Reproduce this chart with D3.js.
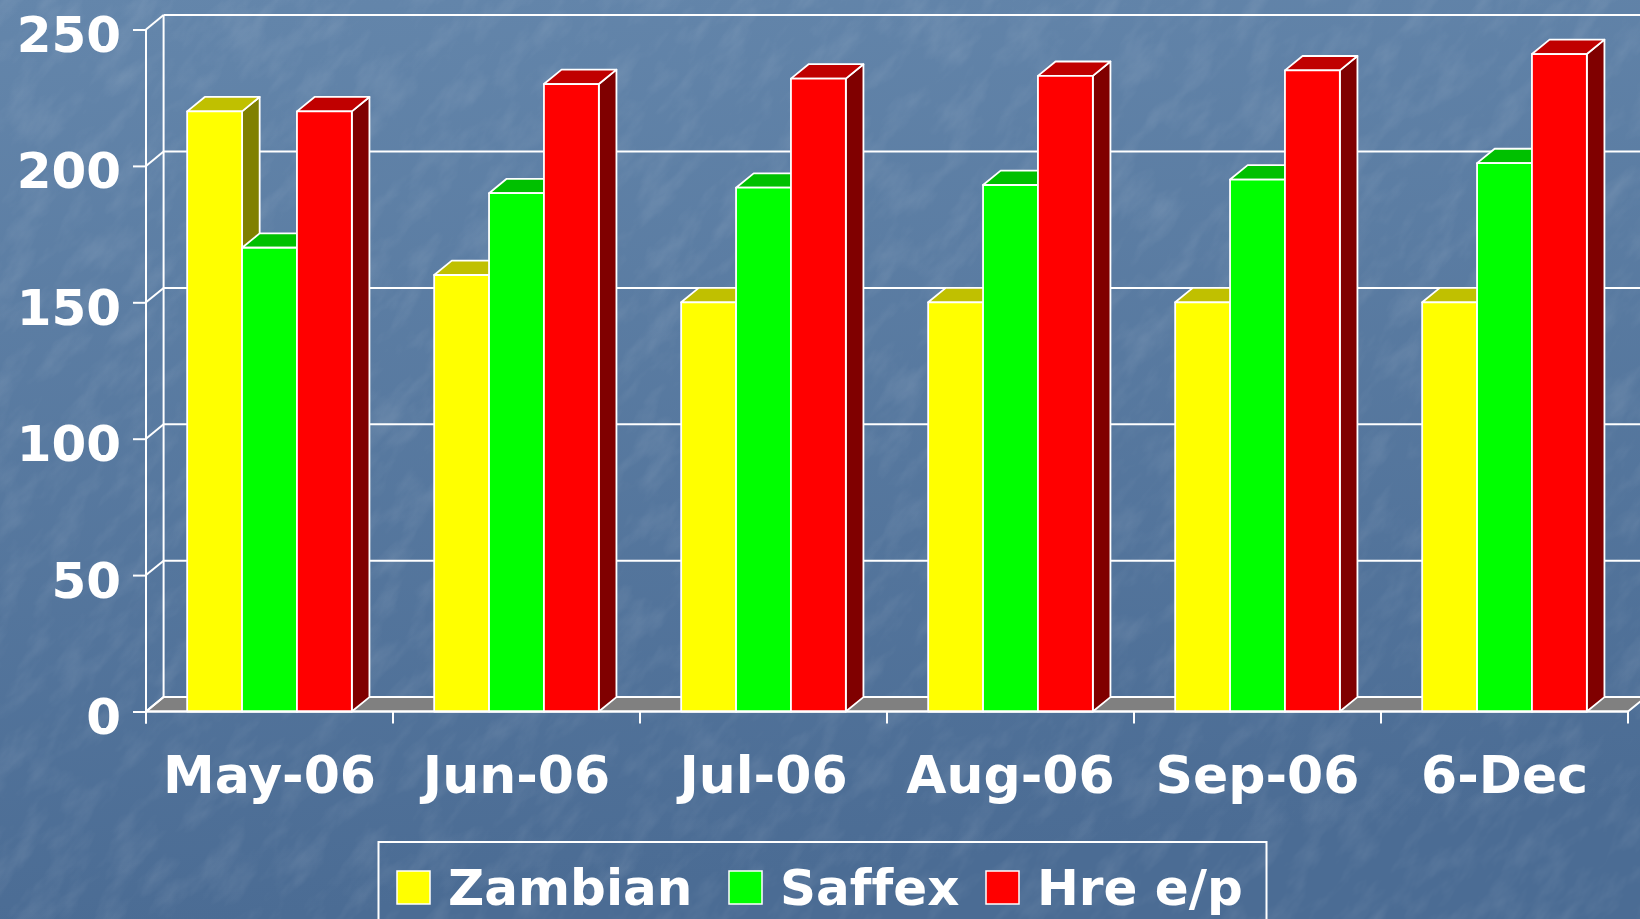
<!DOCTYPE html>
<html>
<head>
<meta charset="utf-8">
<script src="https://cdn.jsdelivr.net/npm/d3@7"></script>
<style>
  html, body { margin: 0; padding: 0; overflow: hidden; background: #56779d; }
  svg { display: block; }
  text { font-family: "DejaVu Sans", Verdana, sans-serif; font-weight: bold; fill: #fff;
         font-variant-ligatures: none; font-feature-settings: "liga" 0; }
</style>
</head>
<body>
<svg id="chart"></svg>
<script>
// chart data
const categories = ['May-06', 'Jun-06', 'Jul-06', 'Aug-06', 'Sep-06', '6-Dec'];
const seriesNames = ['Zambian', 'Saffex', 'Hre e/p'];
const zambian = [220, 160, 150, 150, 150, 150];
const saffex = [170, 190, 192, 193, 195, 201];
const hre = [220, 230, 232, 233, 235, 241];
const yTicks = [0, 50, 100, 150, 200, 250];

const seriesValues = [zambian, saffex, hre];
const colors = {
  front: ['#ffff00', '#00ff00', '#ff0000'],
  top:   ['#c0c000', '#00c000', '#c00000'],
  side:  ['#808000', '#008000', '#800000']
};

const W = 1640, H = 919;
const plot = {left: 146, right: 1628, top: 29.5, bottom: 711.5};
const dx = 17.6, dy = -14.4;   // 3d depth offset

const svg = d3.select('#chart').attr('width', W).attr('height', H);

// background with a light mottled texture
const defs = svg.append('defs');
const grad = defs.append('linearGradient').attr('id', 'bg')
    .attr('x1', 0).attr('y1', 0).attr('x2', 0.15).attr('y2', 1);
grad.append('stop').attr('offset', '0%').attr('stop-color', '#6486ab');
grad.append('stop').attr('offset', '100%').attr('stop-color', '#4b6c94');

const filt = defs.append('filter').attr('id', 'tex')
    .attr('x', 0).attr('y', 0).attr('width', '100%').attr('height', '100%');
filt.append('feTurbulence').attr('type', 'fractalNoise')
    .attr('baseFrequency', '0.02 0.045').attr('numOctaves', 4).attr('seed', 11);
filt.append('feColorMatrix').attr('type', 'matrix')
    .attr('values', '0 0 0 0 1  0 0 0 0 1  0 0 0 0 1  0.9 0 0 0 -0.4');

svg.append('rect').attr('width', W).attr('height', H).attr('fill', 'url(#bg)');
svg.append('g').attr('transform', 'rotate(-50 820 460)')
  .append('rect').attr('x', -500).attr('y', -500).attr('width', W + 1000).attr('height', H + 1000)
    .attr('filter', 'url(#tex)').attr('opacity', 0.22);

// scales
const x0 = d3.scaleBand().domain(categories).range([plot.left, plot.right]);
const gapHalf = x0.bandwidth() * 0.75 / 4.5;
const x1 = d3.scaleBand().domain(seriesNames).range([gapHalf, x0.bandwidth() - gapHalf]);
const y = d3.scaleLinear().domain([0, 250]).range([plot.bottom, plot.top]);

const walls = svg.append('g')
    .attr('stroke', '#fff').attr('stroke-width', 2).attr('fill', 'none');

// floor
const y0 = y(0);
walls.append('polygon')
    .attr('points', [[plot.left, y0], [plot.right, y0], [plot.right + dx, y0 + dy], [plot.left + dx, y0 + dy]].join(' '))
    .attr('fill', '#808080');

// back wall gridlines and left wall diagonals
yTicks.forEach(t => {
  walls.append('line')
      .attr('x1', plot.left + dx).attr('x2', plot.right + dx)
      .attr('y1', y(t) + dy).attr('y2', y(t) + dy);
  walls.append('line')
      .attr('x1', plot.left).attr('x2', plot.left + dx)
      .attr('y1', y(t)).attr('y2', y(t) + dy);
});
walls.append('line')
    .attr('x1', plot.left + dx).attr('x2', plot.left + dx)
    .attr('y1', y(0) + dy).attr('y2', y(250) + dy);
walls.append('line')
    .attr('x1', plot.right + dx).attr('x2', plot.right + dx)
    .attr('y1', y(0) + dy).attr('y2', y(250) + dy);

// bars
const bars = svg.append('g')
    .attr('stroke', '#fff').attr('stroke-width', 1.8).attr('stroke-linejoin', 'round');

categories.forEach((c, i) => {
  seriesNames.forEach((s, j) => {
    const v = seriesValues[j][i];
    const bx = x0(c) + x1(s);
    const bw = x1.bandwidth();
    const by = y(v);
    bars.append('polygon')
        .attr('points', [[bx + bw, by], [bx + bw + dx, by + dy], [bx + bw + dx, y0 + dy], [bx + bw, y0]].join(' '))
        .attr('fill', colors.side[j]);
    bars.append('polygon')
        .attr('points', [[bx, by], [bx + dx, by + dy], [bx + bw + dx, by + dy], [bx + bw, by]].join(' '))
        .attr('fill', colors.top[j]);
    bars.append('rect')
        .attr('x', bx).attr('y', by).attr('width', bw).attr('height', y0 - by)
        .attr('fill', colors.front[j]);
  });
});

// front axes
const axisLines = svg.append('g').attr('stroke', '#fff').attr('stroke-width', 2);
axisLines.append('line')
    .attr('x1', plot.left).attr('x2', plot.right).attr('y1', y0).attr('y2', y0);
axisLines.append('line')
    .attr('x1', plot.left).attr('x2', plot.left).attr('y1', y(250)).attr('y2', y0 + 12);
categories.concat(['end']).forEach((c, i) => {
  const xx = plot.left + i * x0.step();
  axisLines.append('line').attr('x1', xx).attr('x2', xx).attr('y1', y0).attr('y2', y0 + 12);
});

const yAxis = d3.axisLeft(y).tickValues(yTicks).tickSize(13).tickPadding(12);
const yAxisG = svg.append('g').attr('transform', `translate(${plot.left},0)`).call(yAxis);
yAxisG.select('.domain').remove();
yAxisG.selectAll('line').attr('stroke', '#fff').attr('stroke-width', 2);
yAxisG.selectAll('text')
    .attr('font-size', 50).attr('font-family', null).attr('fill', '#fff')
    .attr('dy', null).attr('y', 22).attr('x', -25);

// category labels
svg.append('g').selectAll('text')
    .data(categories)
  .join('text')
    .attr('x', d => x0(d) + x0.bandwidth() / 2)
    .attr('y', 793)
    .attr('text-anchor', 'middle')
    .attr('font-size', 52)
    .text(d => d);

// legend
const legendX = [397, 729, 986];
const legend = svg.append('g');
legend.append('rect')
    .attr('x', 378.5).attr('y', 842).attr('width', 888).attr('height', 120)
    .attr('fill', 'none').attr('stroke', '#fff').attr('stroke-width', 2);
seriesNames.forEach((s, j) => {
  legend.append('rect')
      .attr('x', legendX[j]).attr('y', 871).attr('width', 33).attr('height', 33)
      .attr('fill', colors.front[j]).attr('stroke', '#fff').attr('stroke-width', 1.5);
  legend.append('text')
      .attr('x', legendX[j] + 51).attr('y', 905)
      .attr('font-size', 50)
      .text(s);
});
</script>
</body>
</html>
